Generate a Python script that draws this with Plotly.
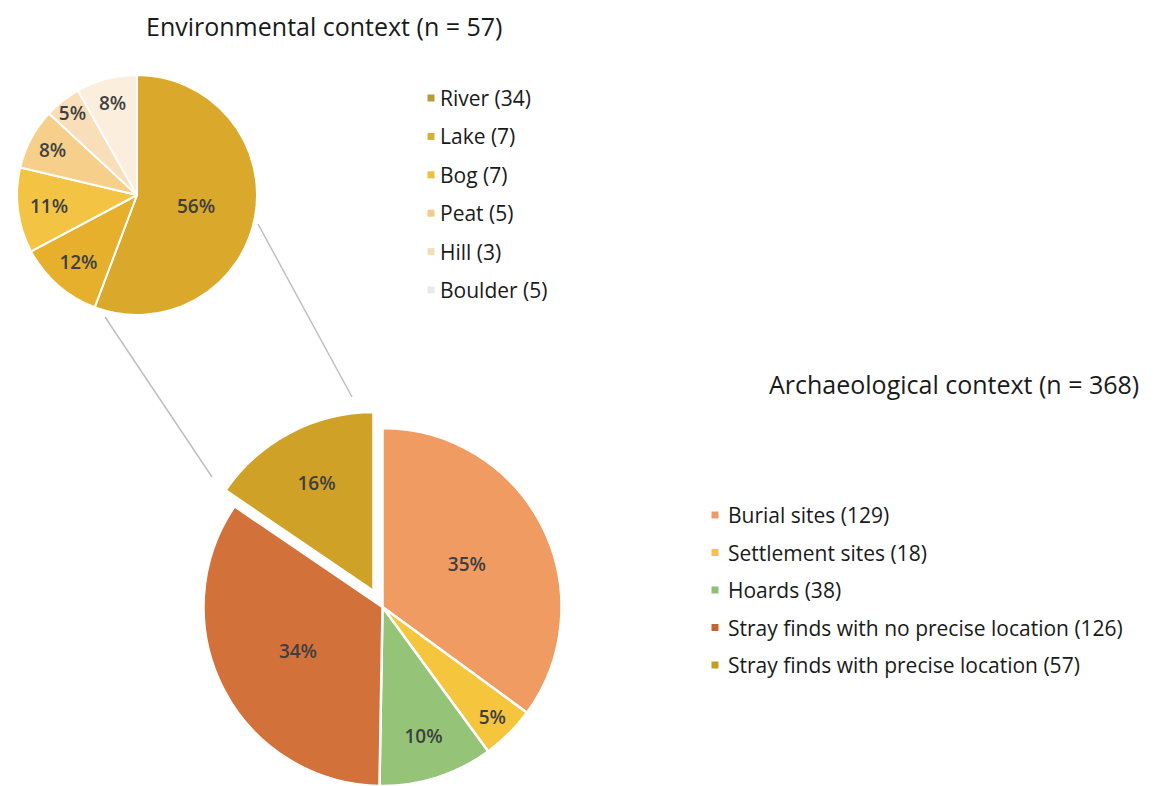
import plotly.graph_objects as go

# ---------------- data ----------------
env_labels = ["River", "Lake", "Bog", "Peat", "Hill", "Boulder"]
env_counts = [34, 7, 7, 5, 3, 5]
env_pct_text = ["56%", "12%", "11%", "8%", "5%", "8%"]
env_colors = ["#DAA82A", "#E6B02C", "#F3C444", "#F6D08A", "#F8DFB9", "#FBEEDC"]
env_legend_colors = ["#B99A34", "#D8AE35", "#EFC13A", "#F1CB8C", "#F3DFBA", "#ECE9E6"]
env_title = "Environmental context (n = 57)"

arch_labels = ["Burial sites", "Settlement sites", "Hoards",
               "Stray finds with no precise location", "Stray finds with precise location"]
arch_counts = [129, 18, 38, 126, 57]
arch_pct_text = ["35%", "5%", "10%", "34%", "16%"]
arch_colors = ["#F09B62", "#F6C53E", "#95C478", "#D2723A", "#CFA126"]
arch_legend_colors = ["#EE9B6C", "#F4C545", "#8FBF73", "#C4642E", "#C59E1E"]
arch_title = "Archaeological context (n = 368)"
pulled_index = 4

# ---------------- page geometry ----------------
PAGE_W, PAGE_H = 1155, 786
OFF = 8  # default body margin of the html page
W, H = PAGE_W - OFF, PAGE_H - OFF


def px(x):
    return (x - OFF) / W


def py(y):
    return 1 - (y - OFF) / H


def dom(cx, cy, r):
    return dict(x=[px(cx - r), px(cx + r)], y=[py(cy + r), py(cy - r)])


FONT = "Open Sans"
LABEL_FONT = dict(family=FONT, size=19, color="#3F3F3F", weight=600)

fig = go.Figure()

# top pie
fig.add_trace(go.Pie(
    labels=env_labels, values=env_counts, text=env_pct_text,
    textinfo="text", textposition="inside", insidetextorientation="horizontal",
    sort=False, direction="clockwise", rotation=0,
    marker=dict(colors=env_colors, line=dict(color="white", width=2)),
    textfont=LABEL_FONT, hoverinfo="skip", showlegend=False,
    domain=dom(137, 195, 120),
))

# bottom pie (all slices except the exploded one)
n_arch = len(arch_counts)
base_colors = [c if i != pulled_index else "rgba(0,0,0,0)" for i, c in enumerate(arch_colors)]
base_text = [t if i != pulled_index else "" for i, t in enumerate(arch_pct_text)]
base_lines = ["white" if i != pulled_index else "rgba(0,0,0,0)" for i in range(n_arch)]
fig.add_trace(go.Pie(
    labels=arch_labels, values=arch_counts, text=base_text,
    textinfo="text", textposition="inside", insidetextorientation="horizontal",
    sort=False, direction="clockwise", rotation=0,
    marker=dict(colors=base_colors, line=dict(color=base_lines, width=2.5)),
    textfont=LABEL_FONT, hoverinfo="skip", showlegend=False,
    domain=dom(382.5, 607, 179),
))

# exploded slice
pull_colors = [c if i == pulled_index else "rgba(0,0,0,0)" for i, c in enumerate(arch_colors)]
pull_text = [t if i == pulled_index else "" for i, t in enumerate(arch_pct_text)]
pull_lines = ["white" if i == pulled_index else "rgba(0,0,0,0)" for i in range(n_arch)]
fig.add_trace(go.Pie(
    labels=arch_labels, values=arch_counts, text=pull_text,
    textinfo="text", textposition="inside", insidetextorientation="horizontal",
    sort=False, direction="clockwise", rotation=0,
    marker=dict(colors=pull_colors, line=dict(color=pull_lines, width=2.5)),
    textfont=LABEL_FONT, hoverinfo="skip", showlegend=False,
    domain=dom(382.5 - 9, 607 - 16, 179),
))

shapes = []
annotations = []

# connector lines
for (x0, y0, x1, y1) in [(105, 317, 212, 477), (258, 224, 352, 397)]:
    shapes.append(dict(type="line", xref="paper", yref="paper",
                       x0=px(x0), y0=py(y0), x1=px(x1), y1=py(y1),
                       line=dict(color="#BFBFBF", width=1.5), layer="below"))

# titles
annotations.append(dict(text=env_title, xref="paper", yref="paper",
                        x=px(323.5), y=py(26), xanchor="center", yanchor="middle",
                        showarrow=False, font=dict(family=FONT, size=25, color="#1a1a1a")))
annotations.append(dict(text=arch_title, xref="paper", yref="paper",
                        x=px(954.5), y=py(384), xanchor="center", yanchor="middle",
                        showarrow=False, font=dict(family=FONT, size=25, color="#1a1a1a")))


def add_legend(labels, counts, colors, mx, tx, y0, dy):
    for i, (lab, n, c) in enumerate(zip(labels, counts, colors)):
        y = y0 + i * dy
        shapes.append(dict(type="rect", xref="paper", yref="paper",
                           x0=px(mx - 3.5), x1=px(mx + 3.5), y0=py(y + 3.5), y1=py(y - 3.5),
                           fillcolor=c, line=dict(width=0)))
        annotations.append(dict(text=f"{lab} ({n})", xref="paper", yref="paper",
                                x=px(tx), y=py(y), xanchor="left", yanchor="middle",
                                showarrow=False,
                                font=dict(family=FONT, size=21, color="#1a1a1a")))


add_legend(env_labels, env_counts, env_legend_colors, 431, 438, 98, 38.4)
add_legend(arch_labels, arch_counts, arch_legend_colors, 715, 726, 515, 37.5)

fig.update_layout(
    width=W, height=H,
    margin=dict(l=0, r=0, t=0, b=0),
    paper_bgcolor="white", plot_bgcolor="white",
    shapes=shapes, annotations=annotations,
    uniformtext=dict(minsize=19, mode="show"),
)

fig.write_html("out.html")
